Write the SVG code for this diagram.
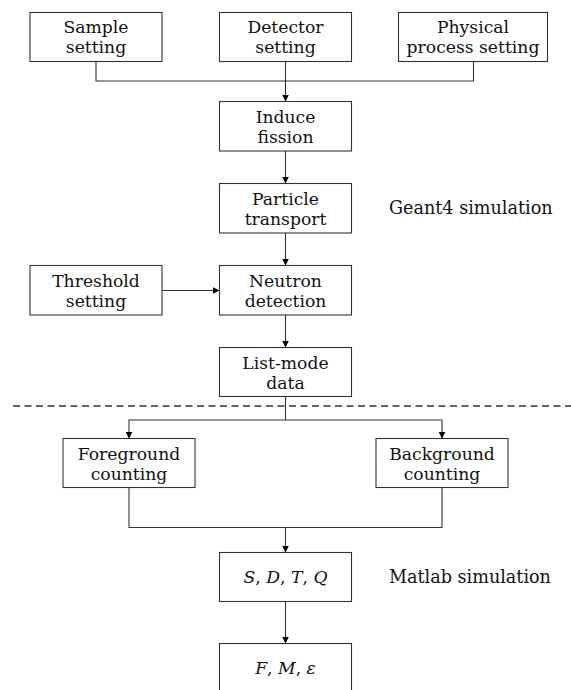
<svg xmlns="http://www.w3.org/2000/svg" width="571" height="690" viewBox="0 0 571 690">
<style>
.box{fill:#fff;stroke:#333;stroke-width:1.1}
.t{font-family:"DejaVu Serif","Liberation Serif",serif;font-size:17.2px;fill:#111;text-anchor:middle}
.lbl{font-family:"DejaVu Serif","Liberation Serif",serif;font-size:17.6px;fill:#111}
.c{fill:none;stroke:#333;stroke-width:1.1}
.i{font-style:italic}
</style>
<defs>
<marker id="ah" markerUnits="userSpaceOnUse" markerWidth="8" markerHeight="7" refX="7" refY="3.5" orient="auto">
<path d="M0,0 L7,3.5 L0,7 Z" fill="#000"/>
</marker>
</defs>
<rect width="571" height="690" fill="#fff"/>
<g id="connectors">
<path class="c" d="M96,61.5 V81 H473.5 V61.5"/>
<path class="c" d="M285.5,61.5 V101.5" marker-end="url(#ah)"/>
<path class="c" d="M285.5,151 V183.5" marker-end="url(#ah)"/>
<path class="c" d="M285.5,233 V265.5" marker-end="url(#ah)"/>
<path class="c" d="M162,290.5 H219.5" marker-end="url(#ah)"/>
<path class="c" d="M285.5,315 V347.5" marker-end="url(#ah)"/>
<path class="c" d="M285.5,396.5 V420"/>
<path class="c" d="M285.5,420 H129 V438.5" marker-end="url(#ah)"/>
<path class="c" d="M285.5,420 H442 V438.5" marker-end="url(#ah)"/>
<path class="c" d="M129,487.5 V527.5 H442 V487.5"/>
<path class="c" d="M285.5,527.5 V552.5" marker-end="url(#ah)"/>
<path class="c" d="M285.5,601.5 V643.5" marker-end="url(#ah)"/>
<line x1="13" y1="406" x2="571" y2="406" stroke="#333" stroke-width="1.3" stroke-dasharray="7 4.5"/>
</g>
<g id="sample"><rect class="box" x="30" y="12.5" width="132" height="49"/><text class="t" x="96" y="32.5">Sample</text><text class="t" x="96" y="52.5">setting</text></g>
<g id="detector"><rect class="box" x="219.5" y="12.5" width="132" height="49"/><text class="t" x="285.5" y="32.5">Detector</text><text class="t" x="285.5" y="52.5">setting</text></g>
<g id="physical"><rect class="box" x="398.5" y="12.5" width="149" height="49"/><text class="t" x="473" y="32.5">Physical</text><text class="t" x="473" y="52.5">process setting</text></g>
<g id="induce"><rect class="box" x="219.5" y="101.5" width="132" height="49.5"/><text class="t" x="285.5" y="122.5">Induce</text><text class="t" x="285.5" y="142.5">fission</text></g>
<g id="particle"><rect class="box" x="219.5" y="183.5" width="132" height="49.5"/><text class="t" x="285.5" y="204.5">Particle</text><text class="t" x="285.5" y="224.5">transport</text></g>
<g id="geant4"><text class="lbl" x="389" y="213.5">Geant4 simulation</text></g>
<g id="threshold"><rect class="box" x="30" y="265.5" width="132" height="49.5"/><text class="t" x="96" y="286.5">Threshold</text><text class="t" x="96" y="306.5">setting</text></g>
<g id="neutron"><rect class="box" x="219.5" y="265.5" width="132" height="49.5"/><text class="t" x="285.5" y="286.5">Neutron</text><text class="t" x="285.5" y="306.5">detection</text></g>
<g id="listmode"><rect class="box" x="219.5" y="347.5" width="132" height="49"/><text class="t" x="285.5" y="368.5">List-mode</text><text class="t" x="285.5" y="388.5">data</text></g>
<g id="foreground"><rect class="box" x="63" y="438.5" width="132" height="49"/><text class="t" x="129" y="459.5">Foreground</text><text class="t" x="129" y="479.5">counting</text></g>
<g id="background"><rect class="box" x="376" y="438.5" width="132" height="49"/><text class="t" x="442" y="459.5">Background</text><text class="t" x="442" y="479.5">counting</text></g>
<g id="sdtq"><rect class="box" x="219.5" y="552.5" width="132" height="49"/><text class="t" x="285.5" y="583"><tspan class="i">S</tspan>, <tspan class="i">D</tspan>, <tspan class="i">T</tspan>, <tspan class="i">Q</tspan></text></g>
<g id="matlab"><text class="lbl" x="389" y="582.5">Matlab simulation</text></g>
<g id="fme"><rect class="box" x="219.5" y="643.5" width="132" height="49"/><text class="t" x="285.5" y="673.5"><tspan class="i">F</tspan>, <tspan class="i">M</tspan>, <tspan class="i">ε</tspan></text></g>
</svg>
